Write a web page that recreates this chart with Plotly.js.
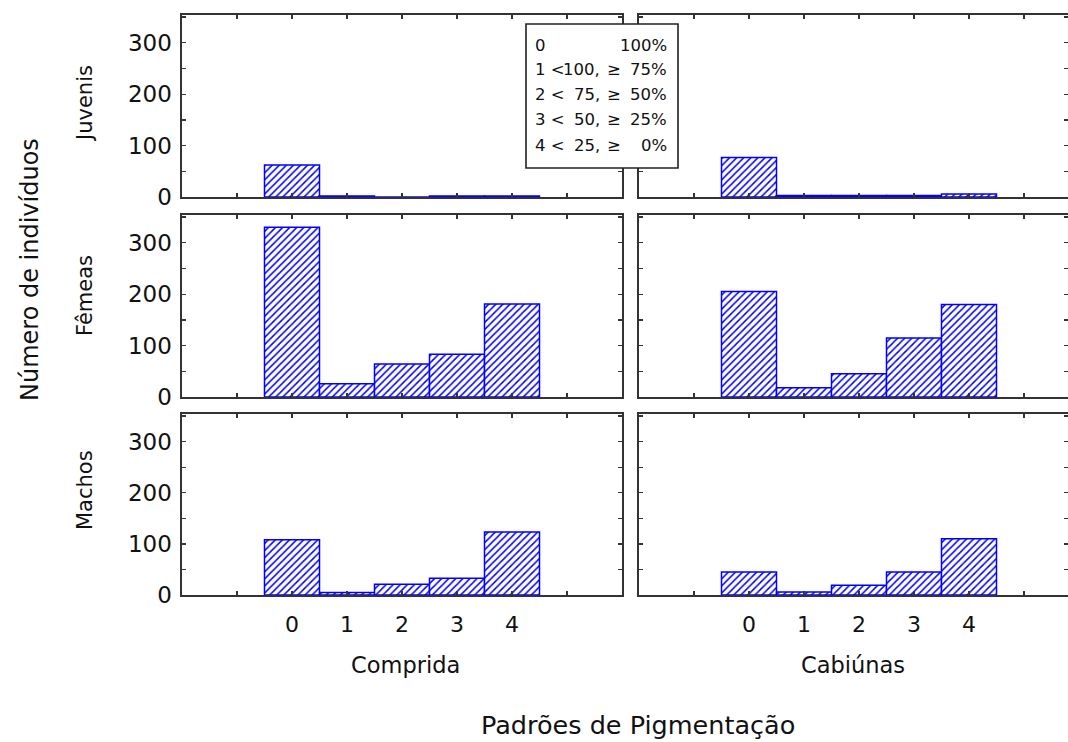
<!DOCTYPE html>
<html>
<head>
<meta charset="utf-8">
<script src="https://cdn.plot.ly/plotly-3.0.1.min.js"></script>
<style>
html,body{margin:0;padding:0;background:#fff;overflow:hidden;}
#chart{width:1068px;height:742px;}
</style>
</head>
<body>
<div id="chart"></div>
<script>
// ---------- data ----------
const categories = [0, 1, 2, 3, 4];
const xTickLabels = ['0', '1', '2', '3', '4'];
const rowNames = ['Juvenis', 'Fêmeas', 'Machos'];
const colNames = ['Comprida', 'Cabiúnas'];

const juvenisComprida = [62, 2, 0, 2, 2];
const juvenisCabiunas = [77, 3, 3, 3, 6];
const femeasComprida  = [330, 26, 64, 83, 181];
const femeasCabiunas  = [205, 18, 45, 115, 180];
const machosComprida  = [108, 5, 21, 33, 123];
const machosCabiunas  = [45, 6, 19, 45, 110];

const yTickVals = [0, 50, 100, 150, 200, 250, 300, 350];
const yTickText = ['0', '', '100', '', '200', '', '300', ''];
const xTickVals = [-1, 0, 1, 2, 3, 4, 5];

const legendCodes = ['0', '1 <', '2 <', '3 <', '4 <'];
const legendUpper = ['', '100,', '75,', '50,', '25,'];
const legendGe    = ['', '≥', '≥', '≥', '≥'];
const legendPct   = ['100%', '75%', '50%', '25%', '0%'];

const yTitle = 'Número de indivíduos';
const xTitle = 'Padrões de Pigmentação';

// ---------- layout helpers ----------
const W = 1068, H = 742;
const px = x => x / W;
const py = y => 1 - y / H;

const colPx = [[182, 622], [639, 1068]];
const rowPx = [[15, 197], [215, 397], [414, 595]];
const colRange = [[-2, 6], [-2, -2 + (1068 - 639) / 55]];

const FONT = 'DejaVu Sans, Liberation Sans, Arial, sans-serif';
const TXT = '#111';
const LINE = '#333';
const BLUE = '#0000ff';

const series = [
  [juvenisComprida, juvenisCabiunas],
  [femeasComprida, femeasCabiunas],
  [machosComprida, machosCabiunas]
];

const data = [];
const layout = {
  width: W, height: H,
  margin: {l: 0, r: 0, t: 0, b: 0},
  paper_bgcolor: '#fff',
  plot_bgcolor: '#fff',
  showlegend: false,
  bargap: 0,
  annotations: [],
  shapes: []
};

for (let r = 0; r < 3; r++) {
  for (let c = 0; c < 2; c++) {
    const i = r * 2 + c + 1;
    const sfx = i === 1 ? '' : String(i);
    data.push({
      type: 'bar',
      x: categories,
      y: series[r][c],
      width: 1,
      xaxis: 'x' + sfx,
      yaxis: 'y' + sfx,
      marker: {
        color: '#ffffff',
        line: {color: BLUE, width: 1.5},
        pattern: {shape: '/', fgcolor: BLUE, bgcolor: '#ffffff', size: 5, solidity: 0.3}
      },
      hoverinfo: 'skip'
    });
    const bottom = r === 2;
    layout['xaxis' + sfx] = {
      domain: [px(colPx[c][0]), px(colPx[c][1])],
      range: colRange[c],
      anchor: 'y' + sfx,
      tickmode: 'array',
      tickvals: xTickVals,
      ticktext: ['', ...xTickLabels, ''],
      showticklabels: bottom,
      ticks: 'inside', ticklen: 4, tickwidth: 1.3, tickcolor: LINE,
      ticklabelstandoff: 9,
      tickfont: {family: FONT, size: 22, color: TXT},
      showline: true, linecolor: LINE, linewidth: 1.6,
      mirror: 'ticks',
      showgrid: false, zeroline: false, fixedrange: true
    };
    layout['yaxis' + sfx] = {
      domain: [py(rowPx[r][1]), py(rowPx[r][0])],
      range: [0, 354],
      anchor: 'x' + sfx,
      tickmode: 'array',
      tickvals: yTickVals,
      ticktext: yTickText,
      showticklabels: c === 0,
      ticks: 'inside', ticklen: 4, tickwidth: 1.3, tickcolor: LINE,
      ticklabelstandoff: 4,
      tickfont: {family: FONT, size: 23, color: TXT},
      showline: true, linecolor: LINE, linewidth: 1.6,
      mirror: 'ticks',
      showgrid: false, zeroline: false, fixedrange: true
    };
  }
}

// row labels
const rowLabelY = [104, 296, 490];
rowNames.forEach((name, r) => {
  layout.annotations.push({
    text: name, xref: 'paper', yref: 'paper',
    x: px(85), y: py(rowLabelY[r]), xanchor: 'center', yanchor: 'middle',
    textangle: -90, showarrow: false,
    font: {family: FONT, size: 21, color: TXT}
  });
});

// column labels
const colLabelX = [405, 853];
colNames.forEach((name, c) => {
  layout.annotations.push({
    text: name, xref: 'paper', yref: 'paper',
    x: px(colLabelX[c]), y: py(665), xanchor: 'center', yanchor: 'middle',
    showarrow: false,
    font: {family: FONT, size: 22.5, color: TXT}
  });
});

// global titles
layout.annotations.push({
  text: yTitle, xref: 'paper', yref: 'paper',
  x: px(30), y: py(270), xanchor: 'center', yanchor: 'middle',
  textangle: -90, showarrow: false,
  font: {family: FONT, size: 24, color: TXT}
});
layout.annotations.push({
  text: xTitle, xref: 'paper', yref: 'paper',
  x: px(638), y: py(725), xanchor: 'center', yanchor: 'middle',
  showarrow: false,
  font: {family: FONT, size: 25.5, color: TXT}
});

// legend box
layout.shapes.push({
  type: 'rect', xref: 'paper', yref: 'paper', layer: 'above',
  x0: px(526), x1: px(678), y0: py(168), y1: py(24),
  fillcolor: '#ffffff', line: {color: '#222', width: 1.6}
});
const legFont = {family: FONT, size: 16.5, color: TXT};
for (let k = 0; k < legendCodes.length; k++) {
  const yy = py(45 + 25 * k);
  layout.annotations.push({text: legendCodes[k], xref: 'paper', yref: 'paper', x: px(533), y: yy,
    xanchor: 'left', yanchor: 'middle', showarrow: false, font: legFont});
  if (legendUpper[k]) layout.annotations.push({text: legendUpper[k], xref: 'paper', yref: 'paper', x: px(602), y: yy,
    xanchor: 'right', yanchor: 'middle', showarrow: false, font: legFont});
  if (legendGe[k]) layout.annotations.push({text: legendGe[k], xref: 'paper', yref: 'paper', x: px(605), y: yy,
    xanchor: 'left', yanchor: 'middle', showarrow: false, font: legFont});
  layout.annotations.push({text: legendPct[k], xref: 'paper', yref: 'paper', x: px(669), y: yy,
    xanchor: 'right', yanchor: 'middle', showarrow: false, font: legFont});
}

Plotly.newPlot('chart', data, layout, {displayModeBar: false, staticPlot: true});
</script>
</body>
</html>
